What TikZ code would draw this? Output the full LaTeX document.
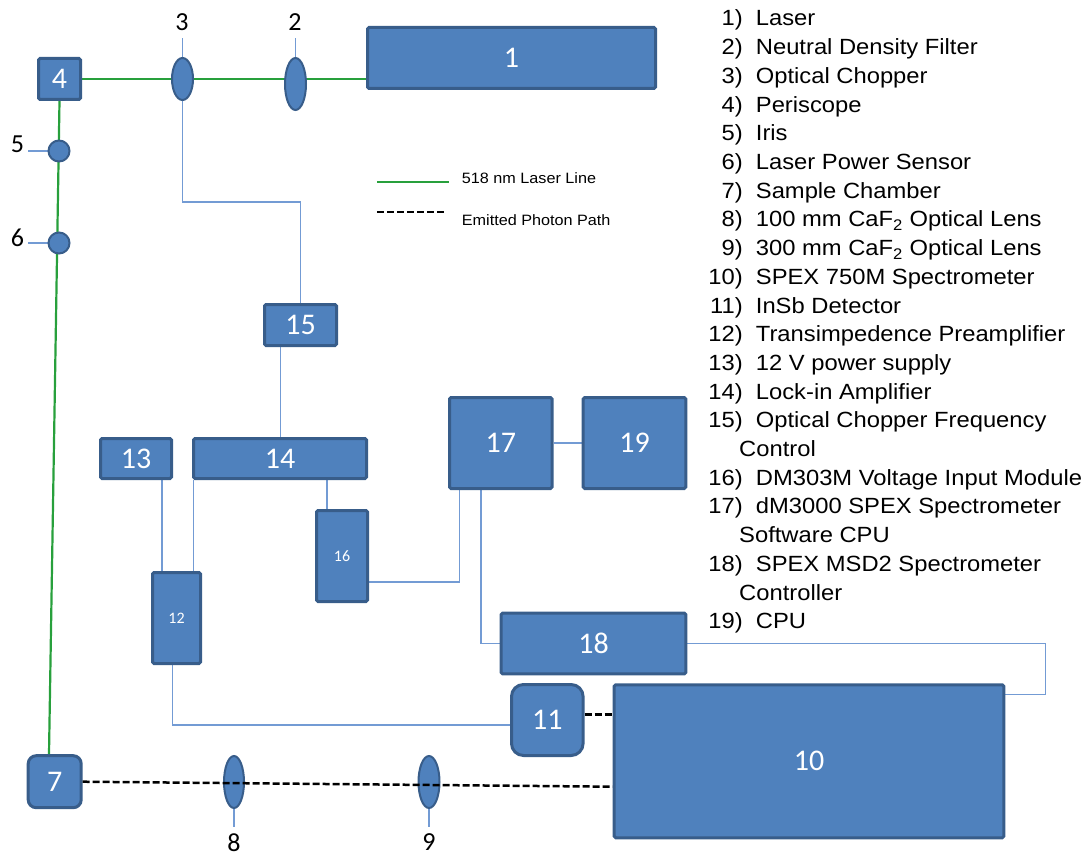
\documentclass[tikz,border=0pt]{standalone}
\usepackage{fontspec}
\setmainfont{Liberation Sans}
\newfontfamily\calfont{Carlito}
\newfontfamily\lstfont[FakeStretch=1.08]{Liberation Sans}
\usetikzlibrary{shapes.geometric}
\definecolor{boxfill}{RGB}{79,129,189}
\definecolor{boxline}{RGB}{56,93,138}
\definecolor{wirecol}{RGB}{115,155,212}
\definecolor{lasercol}{RGB}{40,160,60}
\pgfdeclarelayer{bg}
\pgfsetlayers{bg,main}
\newcommand\listrow[4]{%
  \node[lnum, anchor=base east] (#1n) at (743,{26+28.7*#2}) {#3};
  \node[ltxt, anchor=base west] (#1t) at (755.7,{26+28.7*#2}) {#4};}
\newcommand\listcont[3]{%
  \node[ltxt, anchor=base west] (#1) at (739,{26+28.7*#2}) {#3};}
\begin{document}
\begin{tikzpicture}[x=1pt,y=-1pt,
  blk/.style={draw=boxline, fill=boxfill, line width=3pt, rounded corners=1.5pt,
    inner sep=0pt, text=white, font=\calfont\fontsize{30}{30}\selectfont},
  blksmall/.style={blk, font=\calfont\fontsize{16}{16}\selectfont},
  lens/.style={ellipse, draw=boxline, fill=boxfill, line width=2pt, inner sep=0pt},
  dot/.style={circle, draw=boxline, fill=boxfill, line width=2pt, inner sep=0pt, minimum size=21pt},
  lbl/.style={font=\calfont\fontsize{26}{26}\selectfont, inner sep=0pt, text=black},
  wire/.style={draw=wirecol, line width=1.5pt},
  laser/.style={draw=lasercol, line width=2.2pt},
  photon/.style={draw=black, line width=2.5pt, dash pattern=on 7pt off 3pt},
  lnum/.style={font=\lstfont\fontsize{22}{22}\selectfont, inner sep=0pt},
  ltxt/.style={font=\lstfont\fontsize{22}{22}\selectfont, inner sep=0pt},
  legtxt/.style={font=\lstfont\fontsize{15}{15}\selectfont, inner sep=0pt, anchor=base west}]
\useasboundingbox (0,0) rectangle (1091,856);

% boxes
\node[blk, minimum width=288pt, minimum height=61pt] (n1) at (511.5,58) {1};
\node[blk, minimum width=42pt, minimum height=41pt] (n4) at (59.5,79) {4};
\node[blk, minimum width=389.6pt, minimum height=153pt] (n10) at (809,761.3) {10};
\node[blk, rounded corners=12pt, minimum width=71.6pt, minimum height=71pt] (n11) at (547.3,720) {11};
\node[blksmall, minimum width=48pt, minimum height=91pt] (n12) at (176.5,618) {12};
\node[blk, minimum width=71pt, minimum height=40pt] (n13) at (136,458.5) {13};
\node[blk, minimum width=173pt, minimum height=40pt] (n14) at (280,458.5) {14};
\node[blk, minimum width=72pt, minimum height=41pt] (n15) at (300.5,325) {15};
\node[blksmall, minimum width=51pt, minimum height=91pt] (n16) at (342,556) {16};
\node[blk, minimum width=102.5pt, minimum height=91pt] (n17) at (500.8,443) {17};
\node[blk, minimum width=184.7pt, minimum height=60.6pt] (n18) at (593.5,643.5) {18};
\node[blk, minimum width=102.7pt, minimum height=91pt] (n19) at (634.5,443) {19};
\node[blk, rounded corners=8pt, minimum width=53pt, minimum height=52pt] (n7) at (54.7,781.7) {7};

% lenses and irises
\node[lens, minimum width=21pt, minimum height=52pt] (n2) at (295.5,84) {};
\node[lens, minimum width=21pt, minimum height=42pt] (n3) at (182.5,79) {};
\node[lens, minimum width=20pt, minimum height=52pt] (n8) at (234,782) {};
\node[lens, minimum width=21pt, minimum height=52pt] (n9) at (429,782) {};
\node[dot] (n5) at (59,151) {};
\node[dot] (n6) at (59,243) {};

% outside labels
\node[lbl] (l2) at (295,22.3) {2};
\node[lbl] (l3) at (182,22.3) {3};
\node[lbl] (l5) at (17.5,144) {5};
\node[lbl] (l6) at (17.5,237.5) {6};
\node[lbl] (l8) at (234,842.3) {8};
\node[lbl] (l9) at (429,842.3) {9};

\begin{pgfonlayer}{bg}
  % laser path
  \draw[laser] (n4.east) -- (n1.west |- n4.east);
  \draw[laser] (n4.south) -- (49,0 |- n7.north);
  % label ticks
  \draw[wire] (n3.north) -- ++(0,-19);
  \draw[wire] (n2.north) -- ++(0,-19);
  \draw[wire] (n5.west) -- ++(-20,0);
  \draw[wire] (n6.west) -- ++(-20,0);
  \draw[wire] (n8.south) -- ++(0,18);
  \draw[wire] (n9.south) -- ++(0,18);
  % signal wiring
  \draw[wire] (n3.south) -- (182.5,202) -| (n15.north);
  \draw[wire] (280.7,0 |- n15.south) -- (280.7,0 |- n14.north);
  \draw[wire] (162,0 |- n13.south) -- (162,0 |- n12.north);
  \draw[wire] (193.5,0 |- n14.south) -- (193.5,0 |- n12.north);
  \draw[wire] (327,0 |- n14.south) -- (327,0 |- n16.north);
  \draw[wire] (n16.east |- 0,582) -| (459.6,0 |- n17.south);
  \draw[wire] (481,0 |- n17.south) |- (n18.west);
  \draw[wire] (n17.east) -- (n19.west);
  \draw[wire] (n18.east) -| (1045.3,694.3) -- (n10.east |- 0,694.3);
  \draw[wire] (172.7,0 |- n12.south) |- (n11.west |- 0,725);
\end{pgfonlayer}

% emitted photon path
\draw[photon] (n7.east) -- (n10.west |- 0,786.7);
\draw[photon] (n11.east |- 0,714.3) -- (n10.west |- 0,714.3);

% legend
\coordinate (lga) at (377,181.7);
\coordinate (lgb) at (449,181.7);
\coordinate (lgc) at (377,211.7);
\coordinate (lgd) at (447,211.7);
\draw[laser, line width=2pt] (lga) -- (lgb);
\draw[photon, line width=2pt] (lgc) -- (lgd);
\node[legtxt] (lgt1) at (461.7,183) {518 nm Laser Line};
\node[legtxt] (lgt2) at (461.7,225) {Emitted Photon Path};

% component list
\listrow{a}{0}{1)}{Laser}
\listrow{b}{1}{2)}{Neutral Density Filter}
\listrow{c}{2}{3)}{Optical Chopper}
\listrow{d}{3}{4)}{Periscope}
\listrow{e}{4}{5)}{Iris}
\listrow{f}{5}{6)}{Laser Power Sensor}
\listrow{g}{6}{7)}{Sample Chamber}
\listrow{h}{7}{8)}{100 mm CaF\textsubscript{2} Optical Lens}
\listrow{i}{8}{9)}{300 mm CaF\textsubscript{2} Optical Lens}
\listrow{j}{9}{10)}{SPEX 750M Spectrometer}
\listrow{k}{10}{11)}{InSb Detector}
\listrow{l}{11}{12)}{Transimpedence Preamplifier}
\listrow{m}{12}{13)}{12 V power supply}
\listrow{o}{13}{14)}{Lock-in Amplifier}
\listrow{p}{14}{15)}{Optical Chopper Frequency}
\listcont{pc}{15}{Control}
\listrow{q}{16}{16)}{DM303M Voltage Input Module}
\listrow{r}{17}{17)}{dM3000 SPEX Spectrometer}
\listcont{rc}{18}{Software CPU}
\listrow{s}{19}{18)}{SPEX MSD2 Spectrometer}
\listcont{sc}{20}{Controller}
\listrow{u}{21}{19)}{CPU}
\end{tikzpicture}
\end{document}
